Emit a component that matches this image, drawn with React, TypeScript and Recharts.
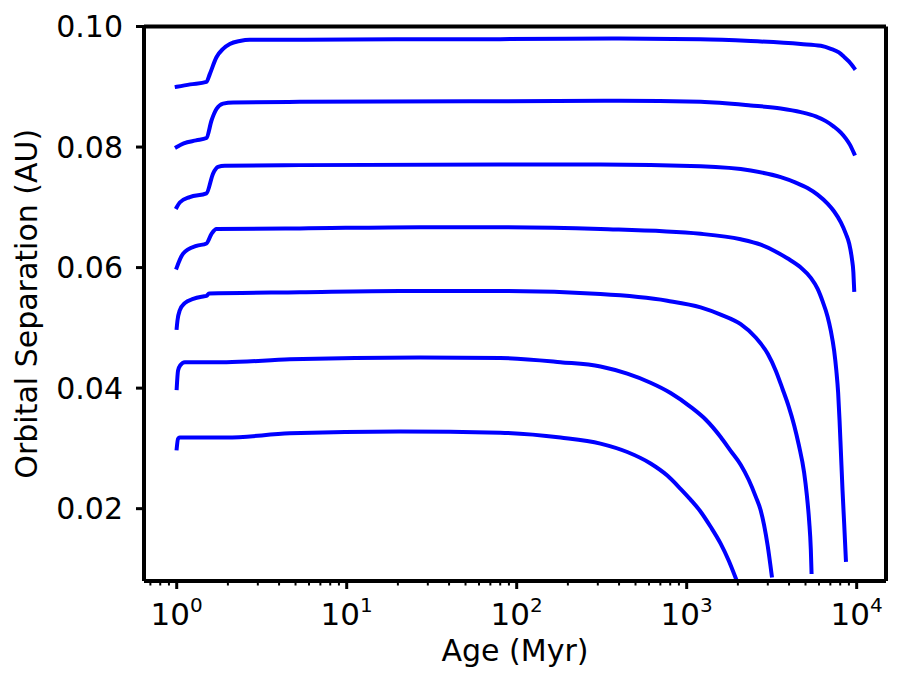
import React from 'react';
import { LineChart, Line, XAxis, YAxis, Label, ReferenceLine } from 'recharts';

// ---- Data ----
const ageA = [1.0, 1.2, 1.496, 1.565, 1.713, 1.874, 2.053, 2.35, 2.69, 5.3, 20.6, 80, 400, 1200, 2380, 4690, 6152, 7047, 7856, 8409, 8995, 9370, 9667];
const sepA = [0.0900, 0.0904, 0.0908, 0.0921, 0.0949, 0.0963, 0.0971, 0.0976, 0.0978, 0.0978, 0.0979, 0.0979, 0.0980, 0.0979, 0.0976, 0.0971, 0.0968, 0.0963, 0.0957, 0.0950, 0.0942, 0.0936, 0.0931];

const ageB = [1.0, 1.1, 1.3, 1.496, 1.602, 1.713, 1.874, 2.15, 5.3, 80, 400, 1208, 2380, 3575, 4691, 5749, 6585, 7339, 8070, 8640, 9118, 9667];
const sepB = [0.0800, 0.0806, 0.0811, 0.0815, 0.0844, 0.0863, 0.0872, 0.0874, 0.0875, 0.0876, 0.0877, 0.0875, 0.0869, 0.0864, 0.0858, 0.0851, 0.0843, 0.0834, 0.0824, 0.0814, 0.0804, 0.0789];

const ageC = [1.0, 1.042, 1.193, 1.496, 1.636, 1.751, 1.918, 5.3, 80, 311, 1208, 2380, 3575, 4382, 5136, 5884, 6739, 7370, 8070, 8640, 9032, 9370, 9563, 9667];
const sepC = [0.0700, 0.0708, 0.0717, 0.0723, 0.0756, 0.0767, 0.0769, 0.0770, 0.0771, 0.0771, 0.0768, 0.0761, 0.0750, 0.0741, 0.0732, 0.0721, 0.0706, 0.0693, 0.0675, 0.0656, 0.0640, 0.0615, 0.0592, 0.0563];

const ageD = [1.0, 1.089, 1.306, 1.496, 1.602, 1.713, 5.3, 27, 80, 311, 1208, 2078, 2726, 3265, 3932, 4691, 5372, 5884, 6321, 6739, 7047, 7370, 7592, 7780, 7930, 8070, 8257, 8442, 8640];
const sepD = [0.0600, 0.0623, 0.0636, 0.0640, 0.0656, 0.0664, 0.0665, 0.0667, 0.0667, 0.0664, 0.0656, 0.0647, 0.0638, 0.0628, 0.0615, 0.0600, 0.0583, 0.0565, 0.0543, 0.0519, 0.0495, 0.0462, 0.0429, 0.0392, 0.0346, 0.0296, 0.0230, 0.0175, 0.0115];

const ageE = [1.0, 1.01, 1.042, 1.115, 1.25, 1.429, 1.496, 1.55, 5.3, 20.6, 80, 311, 769, 1208, 1584, 2078, 2547, 2997, 3342, 3659, 3987, 4282, 4564, 4906, 5089, 5251, 5372, 5424];
const sepE = [0.0500, 0.0512, 0.0529, 0.0541, 0.0548, 0.0552, 0.0553, 0.0557, 0.0559, 0.0561, 0.0561, 0.0556, 0.0545, 0.0534, 0.0522, 0.0506, 0.0484, 0.0457, 0.0429, 0.0399, 0.0369, 0.0339, 0.0306, 0.0260, 0.0223, 0.0180, 0.0133, 0.0095];

const ageF = [1.0, 1.018, 1.05, 1.115, 1.963, 4.63, 27, 80, 181, 311, 447, 613, 804, 1054, 1292, 1584, 1814, 2078, 2316, 2547, 2726, 2851, 2997, 3165];
const sepF = [0.0400, 0.0429, 0.0438, 0.0443, 0.0443, 0.0448, 0.0451, 0.0450, 0.0443, 0.0436, 0.0424, 0.0409, 0.0392, 0.0369, 0.0348, 0.0319, 0.0296, 0.0273, 0.0248, 0.0220, 0.0197, 0.0173, 0.0138, 0.0089];

const ageG = [1.0, 1.018, 1.04, 1.963, 4.63, 20.6, 80, 181, 311, 447, 613, 769, 920, 1054, 1208, 1383, 1584, 1766, 1942];
const sepG = [0.0300, 0.0316, 0.0318, 0.0318, 0.0325, 0.0328, 0.0326, 0.0318, 0.0308, 0.0294, 0.0275, 0.0255, 0.0233, 0.0215, 0.0195, 0.0170, 0.0142, 0.0114, 0.0085];

const xMajorTicks = [1, 10, 100, 1000, 10000];
const xMinorTicks = [
  0.7, 0.8, 0.9,
  2, 3, 4, 5, 6, 7, 8, 9,
  20, 30, 40, 50, 60, 70, 80, 90,
  200, 300, 400, 500, 600, 700, 800, 900,
  2000, 3000, 4000, 5000, 6000, 7000, 8000, 9000,
];
const yTicks = [0.02, 0.04, 0.06, 0.08, 0.10];
const xDomain = [0.642, 14875];
const yDomain = [0.008, 0.1];

const xLabel = 'Age (Myr)';
const yLabel = 'Orbital Separation (AU)';

const curves = [
  [ageA, sepA],
  [ageB, sepB],
  [ageC, sepC],
  [ageD, sepD],
  [ageE, sepE],
  [ageF, sepF],
  [ageG, sepG],
].map(([ages, seps]) => ages.map((x, i) => ({ x, y: seps[i] })));

const allXTicks = [...xMinorTicks, ...xMajorTicks].sort((a, b) => a - b);
const majorSet = new Set(xMajorTicks);

const FONT = 'DejaVu Sans';

const XTick = (props: any) => {
  const { x, y, payload } = props;
  const v = payload.value;
  const isMajor = majorSet.has(v);
  if (!isMajor) {
    return <line x1={x} x2={x} y1={y} y2={y + 4.5} stroke="#000" strokeWidth={2} />;
  }
  const exp = Math.round(Math.log10(v));
  return (
    <g>
      <line x1={x} x2={x} y1={y} y2={y + 8} stroke="#000" strokeWidth={3} />
      <text x={x} y={y + 44} textAnchor="middle" fontFamily={FONT} fontSize={31} fill="#000">
        <tspan>10</tspan>
        <tspan fontSize={20} dy={-13}>{String(exp)}</tspan>
      </text>
    </g>
  );
};

const YLabelContent = (props: any) => {
  const vb = props.viewBox || { y: 26.5, height: 554.5 };
  const cy = vb.y + vb.height / 2;
  const cx = 37;
  return (
    <text x={cx} y={cy} transform={`rotate(-90, ${cx}, ${cy})`} textAnchor="middle"
      fontFamily={FONT} fontSize={30} fill="#000">{yLabel}</text>
  );
};

const XLabelContent = (props: any) => {
  const vb = props.viewBox || { x: 144, width: 742 };
  const cx = vb.x + vb.width / 2;
  return (
    <text x={cx} y={661} textAnchor="middle" fontFamily={FONT} fontSize={30} fill="#000">{xLabel}</text>
  );
};

export default function App() {
  return (
    <div style={{ position: 'absolute', left: 0, top: 0, width: 910, height: 686, background: '#fff' }}>
      <LineChart width={910} height={686} margin={{ top: 26.5, right: 24, bottom: 0, left: 0 }}>
        <XAxis
          type="number"
          dataKey="x"
          scale="log"
          domain={xDomain}
          allowDataOverflow
          ticks={allXTicks}
          interval={0}
          tick={<XTick />}
          tickSize={0}
          tickMargin={0}
          tickLine={false}
          axisLine={{ stroke: '#000', strokeWidth: 4 }}
          height={105}
        >
          <Label content={<XLabelContent />} />
        </XAxis>
        <YAxis
          type="number"
          domain={yDomain}
          allowDataOverflow
          ticks={yTicks}
          interval={0}
          tickFormatter={(v: number) => v.toFixed(2)}
          tick={{ fill: '#000', fontFamily: FONT, fontSize: 30 }}
          tickSize={8}
          tickMargin={13}
          tickLine={{ stroke: '#000', strokeWidth: 3 }}
          axisLine={{ stroke: '#000', strokeWidth: 4 }}
          width={144}
        >
          <Label content={<YLabelContent />} />
        </YAxis>
        {curves.map((d, i) => (
          <Line
            key={i}
            data={d}
            dataKey="y"
            type="monotone"
            stroke="#0000ff"
            strokeWidth={4}
            strokeLinecap="square"
            strokeLinejoin="round"
            dot={false}
            activeDot={false}
            isAnimationActive={false}
          />
        ))}
        <ReferenceLine y={yDomain[1]} stroke="#000" strokeWidth={4} />
        <ReferenceLine x={xDomain[1]} stroke="#000" strokeWidth={4} />
      </LineChart>
    </div>
  );
}
